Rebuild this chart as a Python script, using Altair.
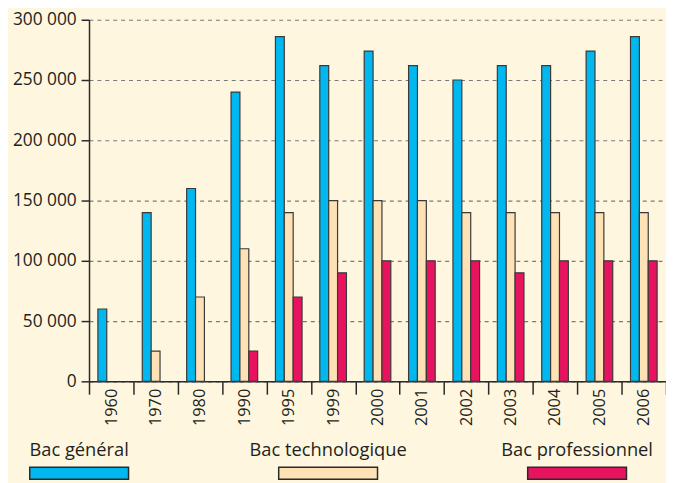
import altair as alt
import pandas as pd

years = ["1960", "1970", "1980", "1990", "1995", "1999", "2000",
         "2001", "2002", "2003", "2004", "2005", "2006"]
series = ["Bac général", "Bac technologique", "Bac professionnel"]
colors = ["#00b8ef", "#ffe1b6", "#e8135f"]
bac_general = [60000, 140000, 160000, 240000, 286000, 262000, 274000,
               262000, 250000, 262000, 262000, 274000, 286000]
bac_techno = [0, 25000, 70000, 110000, 140000, 150000, 150000,
              150000, 140000, 140000, 140000, 140000, 140000]
bac_pro = [0, 0, 0, 25000, 70000, 90000, 100000,
           100000, 100000, 90000, 100000, 100000, 100000]
y_ticks = [0, 50000, 100000, 150000, 200000, 250000, 300000]

rows = []
for name, vals in zip(series, [bac_general, bac_techno, bac_pro]):
    for yr, v in zip(years, vals):
        rows.append({"year": yr, "series": name, "value": v})
df = pd.DataFrame(rows)
legend_df = pd.DataFrame({"series": series})

FONT = "Open Sans"
TXT = "#231f20"

color_scale = alt.Scale(domain=series, range=colors)

bars = alt.Chart(df).transform_filter("datum.value > 0").mark_bar(
    stroke="#3a3a3a", strokeWidth=1.2
).encode(
    x=alt.X("year:N", sort=years, title=None,
            scale=alt.Scale(paddingInner=0, paddingOuter=0),
            axis=alt.Axis(labelAngle=270, labelAlign="right", labelBaseline="middle",
                          labelFont=FONT, labelFontSize=16.5, labelColor=TXT,
                          labelPadding=-6, tickBand="extent", tickSize=13,
                          tickColor="#2a2a2a", tickWidth=1.5,
                          domainColor="#2a2a2a", domainWidth=1.5, grid=False)),
    xOffset=alt.XOffset("series:N", sort=series,
                        scale=alt.Scale(paddingInner=0, paddingOuter=1.0)),
    y=alt.Y("value:Q", title=None,
            scale=alt.Scale(domain=[0, 300000], nice=False, zero=True),
            axis=alt.Axis(values=y_ticks,
                          labelExpr="replace(format(datum.value, ','), ',', ' ')",
                          labelFont=FONT, labelFontSize=17.5, labelColor=TXT,
                          labelPadding=5, tickSize=8, tickColor="#2a2a2a",
                          tickWidth=1.5, domainColor="#2a2a2a", domainWidth=1.5,
                          grid=True, gridColor="#7a7a7a", gridDash=[4, 4],
                          gridWidth=1.2)),
    color=alt.Color("series:N", scale=color_scale, legend=None),
)

leg_x = alt.X("series:N", sort=series, axis=None,
              scale=alt.Scale(type="point", range=[-10, 494], padding=0))

leg_text = alt.Chart(legend_df).mark_text(
    font=FONT, fontSize=18.5, color=TXT, baseline="alphabetic", align="center"
).encode(x=leg_x, y=alt.value(442), text="series:N")

leg_swatch = alt.Chart(legend_df).mark_bar(
    size=100, stroke="#2a2a2a", strokeWidth=1.5
).encode(
    x=leg_x, y=alt.value(453), y2=alt.value(465),
    color=alt.Color("series:N", scale=color_scale, legend=None),
)

chart = alt.layer(bars, leg_text, leg_swatch).resolve_scale(
    x="independent"
).properties(
    width=584, height=366,
    padding={"left": 82, "top": 9, "right": 0, "bottom": 100},
    autosize=alt.AutoSizeParams(type="none"),
    background="#fef6df",
).configure_view(stroke=None)

chart.save("out.html", embed_options={"renderer": "svg", "actions": False})
